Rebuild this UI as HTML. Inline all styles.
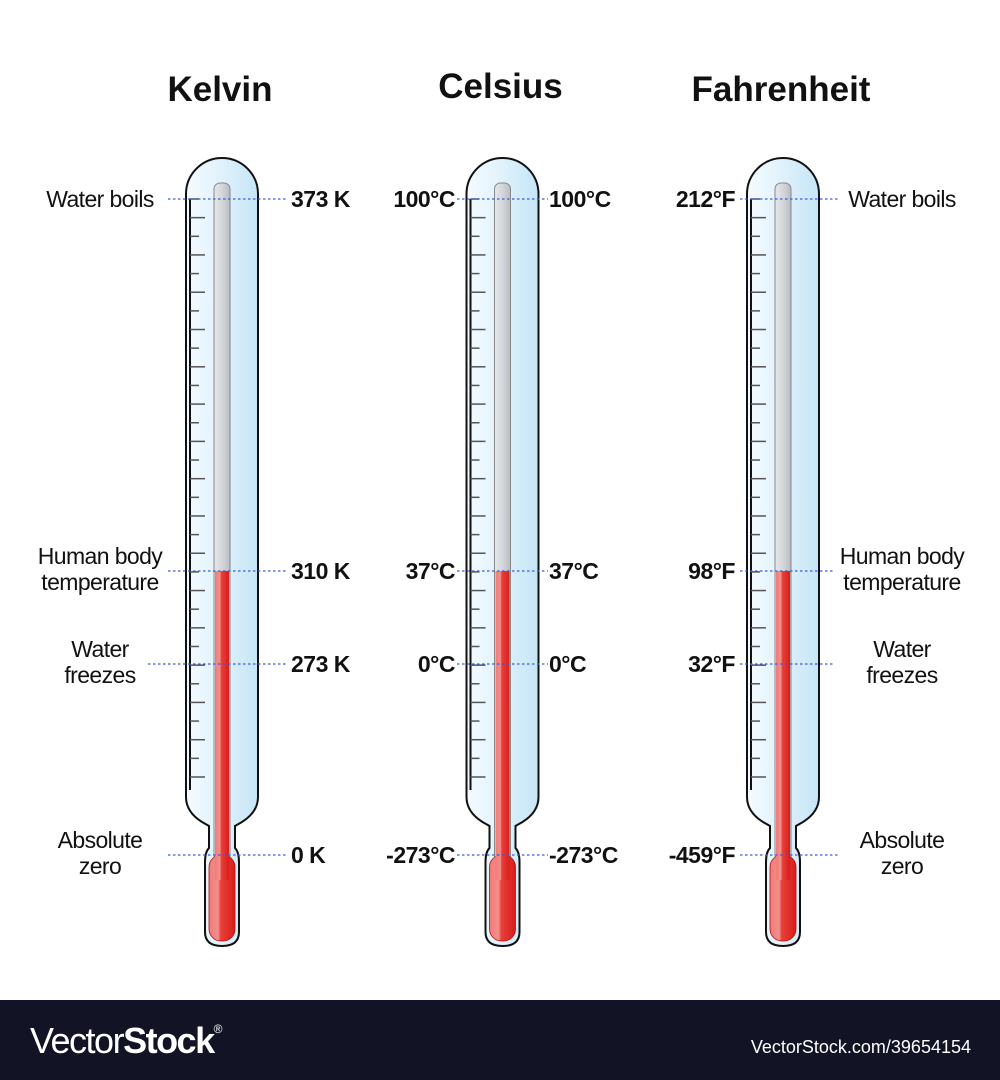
<!DOCTYPE html>
<html><head><meta charset="utf-8"><style>
body{margin:0;width:1000px;height:1080px;background:#fff;overflow:hidden;font-family:"Liberation Sans",sans-serif}
svg{display:block}
</style></head><body>
<svg id="chart" width="1000" height="1080" viewBox="0 0 1000 1080">
<defs>
<linearGradient id="glass" x1="0" x2="1"><stop offset="0" stop-color="#f4fbff"/><stop offset="0.45" stop-color="#e2f2fc"/><stop offset="1" stop-color="#c5e5f6"/></linearGradient>
<linearGradient id="cap" x1="0" x2="1"><stop offset="0" stop-color="#e6e8ea"/><stop offset="0.5" stop-color="#d3d6da"/><stop offset="1" stop-color="#b9bdc2"/></linearGradient>
<linearGradient id="red" x1="0" x2="1"><stop offset="0" stop-color="#f27a78"/><stop offset="0.35" stop-color="#f0908c"/><stop offset="0.45" stop-color="#e8403b"/><stop offset="1" stop-color="#d81e1a"/></linearGradient>
</defs>
<g id="plot"></g>
<rect x="0" y="1000" width="1000" height="80" fill="#121426"/>
<text x="30" y="1053" fill="#fff" font-size="36" letter-spacing="-1.5"><tspan font-weight="300">Vector</tspan><tspan font-weight="bold">Stock</tspan><tspan font-size="12" dy="-20">®</tspan></text>
<text x="971" y="1053" fill="#fff" font-size="18" text-anchor="end">VectorStock.com/39654154</text>
</svg>
<script>
// data
const scaleNames = ["Kelvin","Celsius","Fahrenheit"];
const markerCelsius = [100, 37, 0, -273];         // reference points (°C)
const kelvinLabels = ["373 K","310 K","273 K","0 K"];
const celsiusLabels = ["100°C","37°C","0°C","-273°C"];
const fahrenheitLabels = ["212°F","98°F","32°F","-459°F"];
const descLeft = [["Water boils"],["Human body","temperature"],["Water","freezes"],["Absolute","zero"]];
const liquidLevelC = 37;
const tickCount = 31;

// schematic (piecewise) axis
const axisDomain = [-273, 0, 37, 100];
const axisRange = [855, 664, 571, 199];
function y(v){
  for(let i=0;i<axisDomain.length-1;i++){
    if(v<=axisDomain[i+1]||i===axisDomain.length-2){
      const t=(v-axisDomain[i])/(axisDomain[i+1]-axisDomain[i]);
      return axisRange[i]+t*(axisRange[i+1]-axisRange[i]);
    }
  }
}
function cx(i){return 222+i*280.5;}

const NS="http://www.w3.org/2000/svg";
const plot=document.getElementById('plot');
function el(tag,attrs,parent){const e=document.createElementNS(NS,tag);for(const k in attrs)e.setAttribute(k,attrs[k]);(parent||plot).appendChild(e);return e;}
const labelSets=[kelvinLabels,celsiusLabels,fahrenheitLabels];

scaleNames.forEach((name,i)=>{
  const c=cx(i);
  const g=el('g',{});
  
  
  const title=el('text',{x:c-2,y:i===1?98:101,'text-anchor':'middle','font-size':35,'font-weight':'bold',fill:'#111'},g);
  title.textContent=name;
  
  
  // outer glass
  const L=c-36,R=c+36,top=158;
  const d=`M${L},${top+36} A36,36 0 0 1 ${R},${top+36} L${R},797 Q${R},812 ${c+20},822 L${c+13},826 L${c+13},848 Q${c+17},852 ${c+17},862 L${c+17},932 Q${c+17},946 ${c},946 Q${c-17},946 ${c-17},932 L${c-17},862 Q${c-17},852 ${c-13},848 L${c-13},826 L${c-20},822 Q${L},812 ${L},797 Z`;
  const glass=el('path',{d,fill:'url(#glass)',stroke:'#111','stroke-width':2},g);
  
  
  // capillary
  const capEl=el('rect',{x:c-8,y:183,width:16,height:680,rx:6,fill:'url(#cap)',stroke:'#888','stroke-width':1},g);
  
  
  // bulb liquid
  const bulb=el('rect',{x:c-13,y:855,width:26,height:86,rx:12,fill:'url(#red)',stroke:'#b01010','stroke-width':0.8},g);
  
  
  const ly=y(liquidLevelC);
  const col=el('rect',{x:c-7,y:ly,width:14,height:880-ly,fill:'url(#red)'},g);
  
  
  // scale
  const sl=el('line',{x1:c-32,y1:199,x2:c-32,y2:790,stroke:'#111','stroke-width':2},g);
  
  
  for(let k=0;k<=tickCount;k++){
    const ty=199+k*(777-199)/tickCount;
    const tk=el('line',{x1:c-32,y1:ty,x2:c-32+(k%2?15:9),y2:ty,stroke:'#555','stroke-width':1.5},g);
    
    
  }
  // markers
  markerCelsius.forEach((v,j)=>{
    const my=y(v);
    let x1,x2;
    if(i===0){x1=(j===2?148:168);x2=288;}
    else if(i===1){x1=457;x2=548;}
    else{x1=740;x2=(j===1||j===2)?835:840;}
    const ln=el('line',{x1,y1:my,x2,y2:my,stroke:'#3b5bdb','stroke-width':1.2,'stroke-dasharray':'2.5,2.5'},g);
    
    
    const lab=labelSets[i][j];
    const fs=23;
    if(i===0){
      const t=el('text',{x:291,y:my+8,'font-size':fs,'font-weight':'bold',fill:'#111','letter-spacing':-0.5},g);t.textContent=lab;
      
    } else if(i===1){
      const t1=el('text',{x:455,y:my+8,'text-anchor':'end','font-size':fs,'font-weight':'bold',fill:'#111','letter-spacing':-0.5},g);t1.textContent=lab;
      
      const t2=el('text',{x:549,y:my+8,'font-size':fs,'font-weight':'bold',fill:'#111','letter-spacing':-0.5},g);t2.textContent=lab;
      
    } else {
      const t=el('text',{x:735,y:my+8,'text-anchor':'end','font-size':fs,'font-weight':'bold',fill:'#111','letter-spacing':-0.5},g);t.textContent=lab;
      
    }
    // descriptions
    if(i!==1){
      const lines=descLeft[j];
      const dx=i===0?100:902;
      const base=lines.length===1?my+8:my-7;
      lines.forEach((s,q)=>{
        const t=el('text',{x:dx,y:base+q*26,'text-anchor':'middle','font-size':23,fill:'#111','letter-spacing':-0.6},g);
        t.textContent=s;
        
        
      });
    }
  });
});
</script>
</body></html>
